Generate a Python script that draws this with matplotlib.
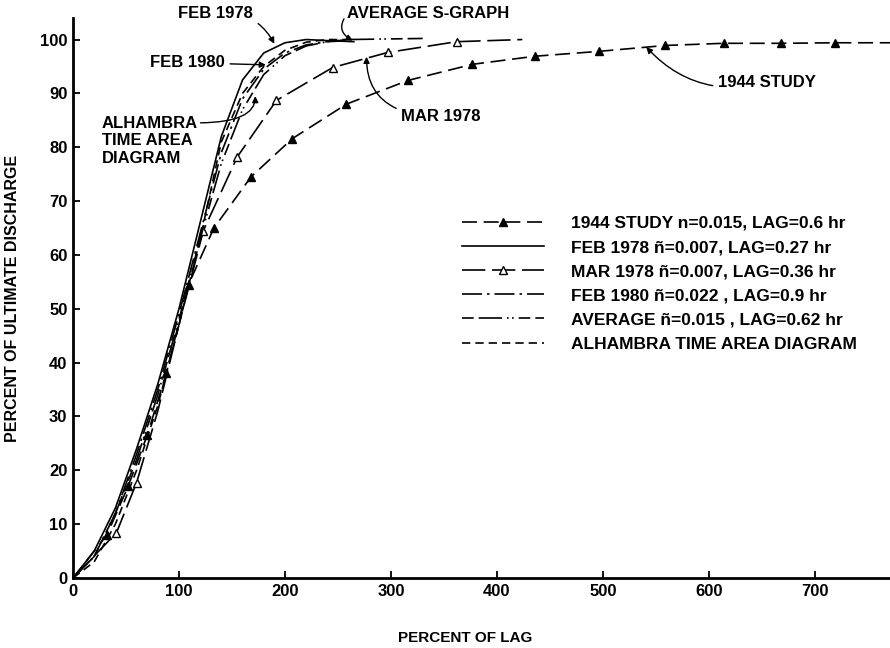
import matplotlib
matplotlib.use("Agg")
import matplotlib.pyplot as plt

plt.rcParams['font.family'] = ['Liberation Sans', 'DejaVu Sans']
plt.rcParams['font.weight'] = 'bold'

# ---- data (percent of lag, percent of ultimate discharge) ----
study1944_x = [0, 32, 52, 70, 88, 109, 133, 168, 207, 258, 316, 377, 436, 496, 559, 614, 668, 719, 771]
study1944_y = [0, 8, 17, 26.5, 38, 54.5, 65, 74.5, 81.6, 88, 92.4, 95.4, 96.9, 97.8, 98.9, 99.3, 99.3, 99.4, 99.4]
study1944_markers = list(range(1, 18))

feb1978_x = [0, 20, 40, 60, 80, 100, 120, 140, 160, 180, 200, 220, 240, 265]
feb1978_y = [0, 5, 13, 24, 36, 50, 66, 82, 92.5, 97.5, 99.4, 100, 99.8, 99.6]

mar1978_x = [0, 41, 60, 80, 100, 123, 155, 192, 245, 297, 362, 424]
mar1978_y = [0, 8.4, 17.7, 31, 47, 64.5, 78.2, 88.7, 94.8, 97.6, 99.6, 100]
mar1978_markers = [1, 2, 5, 6, 7, 8, 9, 10]

feb1980_x = [0, 20, 40, 60, 80, 100, 120, 140, 160, 180, 200, 220, 240, 260]
feb1980_y = [0, 4, 12, 23, 35, 49, 64, 79, 89, 94.5, 97.5, 99, 99.6, 99.8]

average_x = [0, 20, 40, 60, 80, 100, 120, 140, 160, 180, 200, 220, 240, 260, 330]
average_y = [0, 4, 12, 22, 34, 48, 63, 77, 87, 93.5, 97, 98.8, 99.6, 100, 100.2]

alhambra_x = [0, 20, 40, 60, 80, 100, 120, 140, 160, 180, 200, 220, 240, 265]
alhambra_y = [0, 3, 10, 20, 32, 47, 63, 81, 90, 95, 98, 99.5, 100, 100]

legend_labels = [
    "1944 STUDY n=0.015, LAG=0.6 hr",
    "FEB 1978 \u00f1=0.007, LAG=0.27 hr",
    "MAR 1978 \u00f1=0.007, LAG=0.36 hr",
    "FEB 1980 \u00f1=0.022 , LAG=0.9 hr",
    "AVERAGE \u00f1=0.015 , LAG=0.62 hr",
    "ALHAMBRA TIME AREA DIAGRAM",
]

x_ticks = [0, 100, 200, 300, 400, 500, 600, 700]
y_ticks = [0, 10, 20, 30, 40, 50, 60, 70, 80, 90, 100]

# ---- figure ----
fig = plt.figure(figsize=(8.9, 6.48), dpi=100)
ax = fig.add_axes([73 / 890, 70 / 648, 817 / 890, 560 / 648])

lw = 1.2
ax.plot(study1944_x, study1944_y, color='black', lw=lw, linestyle=(0, (9, 4)),
        marker='^', markersize=6, markerfacecolor='black', markeredgecolor='black',
        markevery=study1944_markers, label=legend_labels[0])
ax.plot(feb1978_x, feb1978_y, color='black', lw=lw, linestyle='-', label=legend_labels[1])
ax.plot(mar1978_x, mar1978_y, color='black', lw=lw, linestyle=(0, (14, 4)),
        marker='^', markersize=6, markerfacecolor='white', markeredgecolor='black',
        markeredgewidth=1.0, markevery=mar1978_markers, label=legend_labels[2])
ax.plot(feb1980_x, feb1980_y, color='black', lw=lw, linestyle=(0, (12, 3, 1.5, 3)),
        label=legend_labels[3])
ax.plot(average_x, average_y, color='black', lw=lw, linestyle=(0, (7, 3, 14, 3, 1, 2, 1, 3)),
        label=legend_labels[4])
ax.plot(alhambra_x, alhambra_y, color='black', lw=lw, linestyle=(0, (5, 3)),
        label=legend_labels[5])

ax.set_xlim(0, 771)
ax.set_ylim(0, 104)
ax.set_xticks(x_ticks)
ax.set_yticks(y_ticks)
for s in ['top', 'right']:
    ax.spines[s].set_visible(False)
for s in ['left', 'bottom']:
    ax.spines[s].set_linewidth(2.0)
ax.tick_params(direction='in', length=5, width=1.3, labelsize=12, pad=4)
for lab in ax.get_xticklabels() + ax.get_yticklabels():
    lab.set_fontweight('bold')

ax.set_xlabel("PERCENT OF LAG", fontsize=11, fontweight='bold')
ax.xaxis.set_label_coords(0.48, -0.095)
ax.set_ylabel("PERCENT OF ULTIMATE DISCHARGE", fontsize=11.5, fontweight='bold', labelpad=14)

leg = ax.legend(loc='upper left', bbox_to_anchor=(0.466, 0.6625), frameon=False,
                fontsize=12.5, handlelength=4.7, handletextpad=1.55, labelspacing=0.52,
                borderpad=0, numpoints=1)
for t in leg.get_texts():
    t.set_fontweight('bold')

akw = dict(fontsize=12, fontweight='bold')
arr = dict(arrowstyle='-|>', color='black', lw=1.0, mutation_scale=9)

ax.annotate("FEB 1978", xy=(190, 99.2), xytext=(170, 104.8), ha='right', va='center',
            annotation_clip=False,
            arrowprops=dict(arr, connectionstyle='arc3,rad=-0.35', shrinkA=2, shrinkB=0), **akw)
ax.annotate("AVERAGE S-GRAPH", xy=(264, 99.8), xytext=(259, 104.8), ha='left', va='center',
            annotation_clip=False,
            arrowprops=dict(arr, connectionstyle='arc3,rad=0.6', shrinkA=1, shrinkB=0,
                            relpos=(0.0, 0.5)), **akw)
ax.annotate("FEB 1980", xy=(182, 95.3), xytext=(143, 95.7), ha='right', va='center',
            arrowprops=dict(arr, connectionstyle='arc3,rad=0', shrinkA=2, shrinkB=0), **akw)
ax.annotate("ALHAMBRA\nTIME AREA\nDIAGRAM", xy=(172, 89.5), xytext=(27, 81.2),
            ha='left', va='center', linespacing=1.2,
            arrowprops=dict(arr, connectionstyle='angle3,angleA=0,angleB=90',
                            shrinkA=0, shrinkB=0, relpos=(1.0, 0.86)), **akw)
ax.annotate("MAR 1978", xy=(277, 96.8), xytext=(310, 85.7), ha='left', va='center',
            arrowprops=dict(arr, connectionstyle='angle3,angleA=180,angleB=90',
                            shrinkA=2, shrinkB=0), **akw)
ax.annotate("1944 STUDY", xy=(541, 98.6), xytext=(609, 92.0), ha='left', va='center',
            arrowprops=dict(arr, connectionstyle='arc3,rad=-0.3', shrinkA=2, shrinkB=0), **akw)

fig.savefig("out.png", dpi=100)
